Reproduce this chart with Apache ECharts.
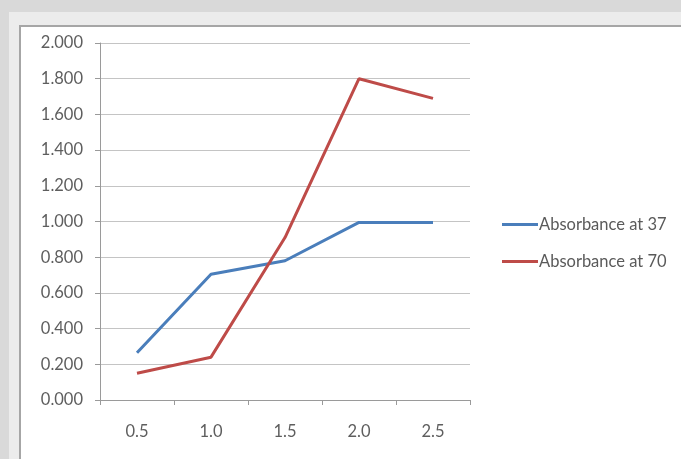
<!DOCTYPE html>
<html>
<head>
<meta charset="utf-8">
<script src="https://cdn.jsdelivr.net/npm/echarts@6/dist/echarts.min.js"></script>
<style>
  html, body { margin: 0; padding: 0; }
  body { width: 681px; height: 459px; background: #d9d9d9; position: relative; overflow: hidden; }
  #halo { position: absolute; left: 9px; top: 12px; right: 0; bottom: 0; background: #ececec; }
  #frame { position: absolute; left: 19px; top: 25px; right: 0; bottom: 0; background: #ffffff;
           border-left: 2px solid #a6a6a6; border-top: 2px solid #a6a6a6; }
  #main { position: absolute; left: 0; top: 0; width: 681px; height: 459px; }
</style>
</head>
<body>
<div id="halo"></div>
<div id="frame"></div>
<div id="main"></div>
<script>
// concentration steps on the x axis
var categories = ['0.5', '1.0', '1.5', '2.0', '2.5'];
var seriesNames = ['Absorbance at 37', 'Absorbance at 70'];
var abs37 = [0.265, 0.705, 0.780, 0.995, 0.995];
var abs70 = [0.150, 0.240, 0.910, 1.800, 1.690];

var chart = echarts.init(document.getElementById('main'), null, { renderer: 'canvas' });

var font = 'Lato, "Noto Sans", sans-serif';

chart.setOption({
  backgroundColor: 'transparent',
  animation: false,
  color: ['#4a7ebb', '#be4b48'],
  grid: { left: 100, right: 211, top: 43, bottom: 59 },
  legend: {
    orient: 'vertical',
    left: 497,
    top: 211,
    itemWidth: 36,
    itemHeight: 3,
    itemGap: 20,
    icon: 'rect',
    data: seriesNames,
    textStyle: { fontFamily: font, fontSize: 16.5, color: '#5a5a5a', padding: [0, 0, 0, -4] }
  },
  xAxis: {
    type: 'category',
    data: categories,
    boundaryGap: true,
    axisLine: { lineStyle: { color: '#9a9a9a', width: 1 } },
    axisTick: { show: true, length: 5, alignWithLabel: false, lineStyle: { color: '#9a9a9a' } },
    axisLabel: { fontFamily: font, fontSize: 16.5, color: '#5e5e5e', margin: 23 },
    splitLine: { show: false }
  },
  yAxis: {
    type: 'value',
    min: 0,
    max: 2,
    interval: 0.2,
    axisLine: { show: true, lineStyle: { color: '#9a9a9a', width: 1 } },
    axisTick: { show: true, length: 5, lineStyle: { color: '#9a9a9a' } },
    axisLabel: {
      fontFamily: font, fontSize: 16.5, color: '#5e5e5e', margin: 17,
      formatter: function (v) { return v.toFixed(3); }
    },
    splitLine: { show: true, lineStyle: { color: '#c4c4c4', width: 1 } }
  },
  series: [
    { name: seriesNames[0], type: 'line', data: abs37, symbol: 'none', lineStyle: { width: 3 } },
    { name: seriesNames[1], type: 'line', data: abs70, symbol: 'none', lineStyle: { width: 3 } }
  ]
});
</script>
</body>
</html>
